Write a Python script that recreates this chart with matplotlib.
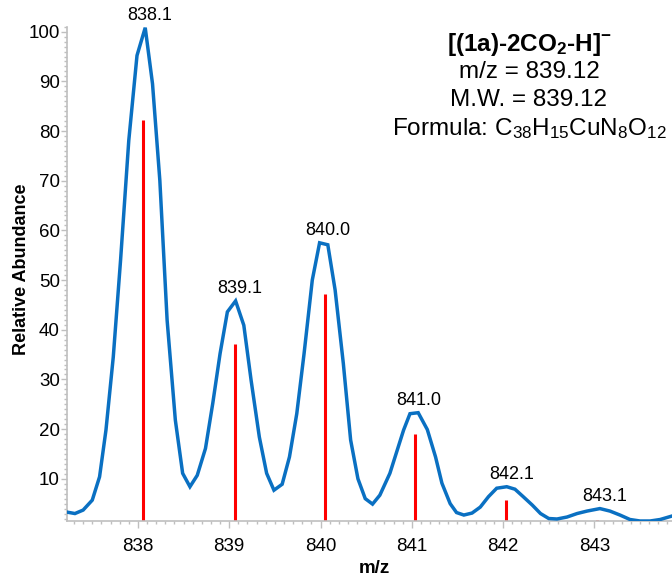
"""Isotope pattern plot for [(1a)-2CO2-H]-"""
import matplotlib
matplotlib.use('Agg')
import matplotlib.pyplot as plt
from matplotlib.ticker import MultipleLocator

plt.rcParams['font.family'] = ['Liberation Sans', 'DejaVu Sans']
plt.rcParams['mathtext.default'] = 'regular'

# Measured profile (blue)
mz = [837.22, 837.31, 837.40, 837.50, 837.58, 837.65, 837.73, 837.81, 837.90, 837.99,
      838.08, 838.16, 838.24, 838.32, 838.41, 838.49, 838.57, 838.65, 838.74, 838.82,
      838.90, 838.98, 839.07, 839.16, 839.24, 839.33, 839.41, 839.49, 839.58, 839.66,
      839.74, 839.82, 839.91, 839.99, 840.08, 840.16, 840.25, 840.33, 840.41, 840.49,
      840.57, 840.65, 840.76, 840.91, 840.98, 841.07, 841.17, 841.26, 841.33, 841.42,
      841.49, 841.57, 841.66, 841.75, 841.84, 841.93, 842.04, 842.13, 842.22, 842.32,
      842.41, 842.50, 842.59, 842.70, 842.81, 842.92, 843.06, 843.17, 843.28, 843.39,
      843.50, 843.61, 843.72, 843.85]
abundance = [3.3, 3.0, 3.7, 5.7, 10.4, 19.8, 34.5, 54.0, 78.1, 95.2,
             100.8, 89.5, 70.1, 41.9, 21.8, 11.1, 8.4, 10.7, 16.1, 25.2,
             35.2, 43.6, 45.8, 40.9, 29.8, 18.4, 11.1, 7.7, 8.9, 14.4,
             23.1, 35.2, 50.0, 57.5, 57.1, 48.0, 33.2, 17.8, 10.0, 6.0,
             4.9, 6.7, 11.1, 19.8, 23.1, 23.3, 19.9, 14.4, 9.1, 5.0,
             3.2, 2.7, 3.1, 4.3, 6.4, 8.1, 8.4, 7.9, 6.4, 4.7,
             3.0, 2.0, 1.9, 2.3, 3.0, 3.5, 4.0, 3.5, 2.7, 1.8,
             1.5, 1.5, 1.8, 2.5]

# Simulated isotope sticks (red)
stick_mz = [838.06, 839.06, 840.05, 841.04, 842.03, 843.03]
stick_int = [82.3, 37.2, 47.1, 19.1, 5.7, 1.7]

# Peak labels
peak_mz = [838.08, 839.07, 840.03, 841.03, 842.04, 843.06]
peak_int = [100.8, 45.8, 57.5, 23.3, 8.4, 4.0]
peak_labels = ['838.1', '839.1', '840.0', '841.0', '842.1', '843.1']

YMIN, YMAX = 1.5, 101.0
XMIN, XMAX = 837.22, 843.85
GRAY = '#bfbfbf'

fig = plt.figure(figsize=(6.72, 5.77), dpi=100)
ax = fig.add_axes([66.7 / 672, (577 - 521) / 577, (672 - 66.7) / 672, (521 - 26.7) / 577])

ax.vlines(stick_mz, YMIN, stick_int, color='#ff0000', lw=2.2, zorder=2)
ax.plot(mz, abundance, color='#0a70c2', lw=2.5, zorder=3, solid_joinstyle='miter')

for x, y, lab in zip(peak_mz, peak_int, peak_labels):
    ax.annotate(lab, (x, y), xytext=(4.5, 12), textcoords='offset pixels',
                ha='center', va='center', fontsize=13, annotation_clip=False)

ax.set_xlim(XMIN, XMAX)
ax.set_ylim(YMIN, YMAX)
ax.set_xticks([838, 839, 840, 841, 842, 843])
ax.set_yticks(range(10, 101, 10))
ax.xaxis.set_minor_locator(MultipleLocator(0.1))
ax.yaxis.set_minor_locator(MultipleLocator(1))

for side in ['top', 'right']:
    ax.spines[side].set_visible(False)
for side in ['left', 'bottom']:
    ax.spines[side].set_color(GRAY)
    ax.spines[side].set_linewidth(1.2)

ax.tick_params(axis='both', which='both', direction='out', color=GRAY, width=1)
ax.tick_params(axis='y', which='major', length=4.5, pad=0.5, labelsize=13.5)
ax.tick_params(axis='y', which='minor', length=2.5)
ax.tick_params(axis='x', which='major', length=5, pad=7.5, labelsize=13.5)
ax.tick_params(axis='x', which='minor', length=2.5)

ax.set_xlabel('m/z', fontweight='bold', fontsize=13.5)
ax.xaxis.set_label_coords(0.508, -0.078)
ax.set_ylabel('Relative Abundance', fontweight='bold', fontsize=13)
ax.yaxis.set_label_coords(-0.06, 0.51)

# Info block
cx = 529 / 672
fig.text(cx, 1 - 45 / 577, '[(1a)-2CO$_2$-H]$^{-}$', ha='center', va='center',
         fontsize=17.5, fontweight='bold')
fig.text(cx, 1 - 72 / 577, 'm/z = 839.12', ha='center', va='center', fontsize=17.5)
fig.text(cx, 1 - 100 / 577, 'M.W. = 839.12', ha='center', va='center', fontsize=17.5)
fig.text(cx, 1 - 129 / 577, 'Formula: C$_{38}$H$_{15}$CuN$_8$O$_{12}$',
         ha='center', va='center', fontsize=17.5)

fig.savefig('out.png', dpi=100)
plt.close(fig)
